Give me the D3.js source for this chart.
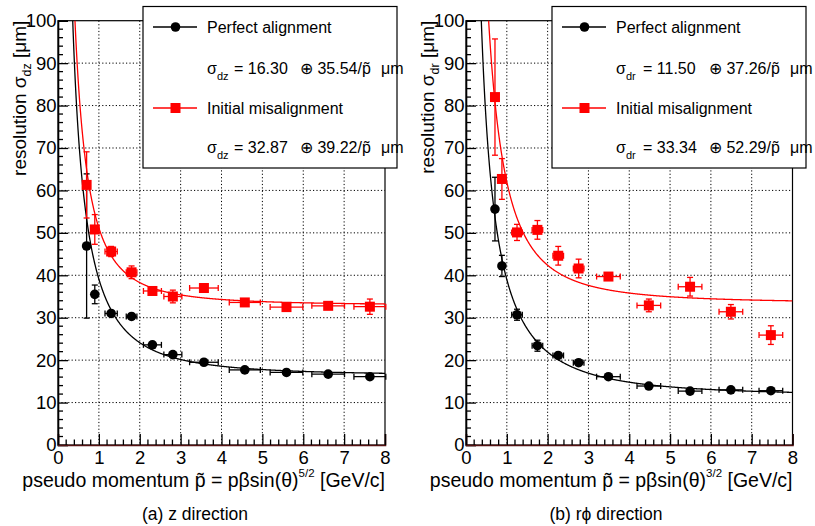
<!DOCTYPE html>
<html>
<head>
<meta charset="utf-8">
<script src="https://cdn.jsdelivr.net/npm/d3@7"></script>
<style>
  body { margin: 0; background: #fff; }
  svg text { font-family: "Liberation Sans", Arial, sans-serif; fill: #000; }
</style>
</head>
<body>
<div id="chart"></div>
<script>
// ---- data ----
// (a) z direction
const zMomentum    = [0.70, 0.90, 1.30, 1.80, 2.31, 2.81, 3.57, 4.57, 5.59, 6.61, 7.63];
const zMomentumErr = [0.04, 0.06, 0.15, 0.13, 0.22, 0.22, 0.35, 0.38, 0.40, 0.40, 0.39];
const zPerfect     = [46.9, 35.5, 31.0, 30.3, 23.6, 21.3, 19.5, 17.7, 17.1, 16.7, 16.1];
const zPerfectErr  = [17.0, 2.2, 0.5, 0.5, 0.6, 0.6, 0.5, 0.5, 0.4, 0.4, 0.4];
const zMisaligned  = [61.3, 50.8, 45.6, 40.7, 36.3, 35.0, 37.0, 33.6, 32.5, 32.8, 32.6];
const zMisalignErr = [7.8, 3.5, 1.2, 1.5, 0.8, 1.5, 0.7, 0.8, 0.8, 0.8, 1.8];
const zFitPerfect    = [16.30, 35.54];
const zFitMisaligned = [32.87, 39.22];

// (b) r-phi direction
const rMomentum    = [0.71, 0.88, 1.25, 1.75, 2.26, 2.76, 3.49, 4.48, 5.49, 6.49, 7.47];
const rMomentumErr = [0.05, 0.05, 0.13, 0.13, 0.13, 0.13, 0.29, 0.29, 0.29, 0.29, 0.29];
const rPerfect     = [55.6, 42.2, 30.7, 23.4, 21.1, 19.4, 16.1, 13.9, 12.7, 13.0, 12.8];
const rPerfectErr  = [7.5, 2.5, 1.3, 1.3, 0.6, 0.6, 0.5, 0.5, 0.5, 0.4, 0.4];
const rMisaligned  = [82.0, 62.7, 50.1, 50.7, 44.6, 41.6, 39.7, 32.9, 37.3, 31.4, 25.9];
const rMisalignErr = [13.7, 4.8, 1.9, 2.2, 2.2, 2.2, 0.8, 1.5, 2.2, 1.7, 2.2];
const rFitPerfect    = [11.50, 37.26];
const rFitMisaligned = [33.34, 52.29];

const xTicks = [0, 1, 2, 3, 4, 5, 6, 7, 8];
const yTicks = [0, 10, 20, 30, 40, 50, 60, 70, 80, 90, 100];
const seriesNames = ["Perfect alignment", "Initial misalignment"];

const W = 815, H = 526;
const svg = d3.select("#chart").append("svg")
  .attr("width", W).attr("height", H);

const panels = [
  {
    id: "a", left: 58, right: 385, sub: "dz", power: "5/2",
    caption: "(a) z direction", captionX: 195,
    p: zMomentum, pErr: zMomentumErr,
    black: zPerfect, blackErr: zPerfectErr, red: zMisaligned, redErr: zMisalignErr,
    fitBlack: zFitPerfect, fitRed: zFitMisaligned, legendX: 143
  },
  {
    id: "b", left: 466, right: 792.5, sub: "dr", power: "3/2",
    caption: "(b) r\u03d5 direction", captionX: 606,
    p: rMomentum, pErr: rMomentumErr,
    black: rPerfect, blackErr: rPerfectErr, red: rMisaligned, redErr: rMisalignErr,
    fitBlack: rFitPerfect, fitRed: rFitMisaligned, legendX: 552
  }
];

const plotTop = 20.7, plotBottom = 445;

panels.forEach(drawPanel);

function drawPanel(cfg) {
  const x = d3.scaleLinear().domain([0, 8]).range([cfg.left, cfg.right]);
  const y = d3.scaleLinear().domain([0, 100]).range([plotBottom, plotTop]);
  const g = svg.append("g");

  // clip region for curves
  g.append("clipPath").attr("id", "clip-" + cfg.id)
    .append("rect")
      .attr("x", cfg.left).attr("y", plotTop)
      .attr("width", cfg.right - cfg.left).attr("height", plotBottom - plotTop);

  // dotted grid
  g.append("g").selectAll("line")
    .data(xTicks.slice(1, -1))
    .join("line")
      .attr("x1", d => x(d)).attr("x2", d => x(d))
      .attr("y1", plotTop).attr("y2", plotBottom)
      .attr("stroke", "#000").attr("stroke-width", 1)
      .attr("stroke-dasharray", "1.2,2.2");
  g.append("g").selectAll("line")
    .data(yTicks.slice(1, -1))
    .join("line")
      .attr("x1", cfg.left).attr("x2", cfg.right)
      .attr("y1", d => y(d)).attr("y2", d => y(d))
      .attr("stroke", "#000").attr("stroke-width", 1)
      .attr("stroke-dasharray", "1.2,2.2");

  // frame
  g.append("rect")
    .attr("x", cfg.left).attr("y", plotTop)
    .attr("width", cfg.right - cfg.left).attr("height", plotBottom - plotTop)
    .attr("fill", "none").attr("stroke", "#000").attr("stroke-width", 1.2);

  // axes (ticks drawn inward)
  const yAxis = g.append("g")
    .attr("transform", `translate(${cfg.left},0)`)
    .call(d3.axisLeft(y).tickValues(yTicks).tickSize(-10).tickPadding(1.5).tickFormat(d3.format("d")));
  const xAxis = g.append("g")
    .attr("transform", `translate(0,${plotBottom})`)
    .call(d3.axisBottom(x).tickValues(xTicks).tickSize(-11).tickPadding(6).tickFormat(d3.format("d")));
  [yAxis, xAxis].forEach(a => {
    a.select(".domain").attr("stroke", "#000").attr("stroke-width", 1.6);
    a.selectAll(".tick line").attr("stroke", "#000").attr("stroke-width", 1.3);
    a.selectAll(".tick text")
      .attr("font-family", "Liberation Sans, Arial, sans-serif")
      .attr("font-size", 18.5).attr("fill", "#000");
  });
  xAxis.select(".domain").attr("stroke", "#551111");

  // minor ticks
  g.append("g").selectAll("line")
    .data(d3.range(0, 100.01, 2).filter(v => v % 10 !== 0))
    .join("line")
      .attr("x1", cfg.left).attr("x2", cfg.left + 5)
      .attr("y1", d => y(d)).attr("y2", d => y(d))
      .attr("stroke", "#000").attr("stroke-width", 1.3);
  g.append("g").selectAll("line")
    .data(d3.range(1, 40).filter(i => i % 5 !== 0).map(i => i * 0.2))
    .join("line")
      .attr("x1", d => x(d)).attr("x2", d => x(d))
      .attr("y1", plotBottom).attr("y2", plotBottom - 5.5)
      .attr("stroke", "#000").attr("stroke-width", 1.3);

  // fit curves sigma = a (+) b/p
  const pGrid = d3.range(0.3, 8.0001, 0.01);
  const line = d3.line().x(d => x(d[0])).y(d => y(d[1]));
  [[cfg.fitBlack, "#000"], [cfg.fitRed, "#ff0000"]].forEach(([f, col]) => {
    const pts = pGrid.map(p => [p, Math.sqrt(f[0] * f[0] + (f[1] / p) * (f[1] / p))])
      .filter(d => d[1] < 104);
    g.append("path")
      .attr("clip-path", `url(#clip-${cfg.id})`)
      .attr("d", line(pts))
      .attr("fill", "none").attr("stroke", col).attr("stroke-width", 1.3);
  });

  // data points with error bars
  drawSeries(g, x, y, cfg.p, cfg.pErr, cfg.black, cfg.blackErr, "#000", "circle");
  drawSeries(g, x, y, cfg.p, cfg.pErr, cfg.red, cfg.redErr, "#ff0000", "square");

  // axis titles
  const yt = g.append("text")
    .attr("transform", `translate(${cfg.left - 32.5},${plotTop}) rotate(-90)`)
    .attr("text-anchor", "end")
    .attr("font-size", 19);
  yt.append("tspan").text("resolution \u03c3");
  yt.append("tspan").attr("font-size", 12.5).attr("dy", 5).text(cfg.sub);
  yt.append("tspan").attr("dy", -5).text(" [\u03bcm]");

  const xt = g.append("text")
    .attr("x", cfg.right).attr("y", 487)
    .attr("text-anchor", "end")
    .attr("font-size", 19.5);
  xt.append("tspan").text("pseudo momentum  p\u0303 = p\u03b2sin(\u03b8)");
  xt.append("tspan").attr("font-size", 11.5).attr("dy", -10).text(cfg.power);
  xt.append("tspan").attr("dy", 10).text(" [GeV/c]");

  // caption
  g.append("text")
    .attr("x", cfg.captionX).attr("y", 520)
    .attr("text-anchor", "middle")
    .attr("font-size", 17.5)
    .text(cfg.caption);

  drawLegend(cfg);
}

function drawSeries(g, x, y, ps, pErr, vals, vErr, col, shape) {
  const s = g.append("g");
  const cap = 3;
  ps.forEach((p, i) => {
    const cx = x(p), cy = y(vals[i]);
    const x0 = x(p - pErr[i]), x1 = x(p + pErr[i]);
    const y0 = y(vals[i] - vErr[i]), y1 = y(Math.min(vals[i] + vErr[i], 100));
    // horizontal error
    s.append("line").attr("x1", x0).attr("x2", x1).attr("y1", cy).attr("y2", cy)
      .attr("stroke", col).attr("stroke-width", 1.3);
    [x0, x1].forEach(xx => s.append("line")
      .attr("x1", xx).attr("x2", xx).attr("y1", cy - cap).attr("y2", cy + cap)
      .attr("stroke", col).attr("stroke-width", 1.3));
    // vertical error
    s.append("line").attr("x1", cx).attr("x2", cx).attr("y1", y0).attr("y2", y1)
      .attr("stroke", col).attr("stroke-width", 1.3);
    [y0, y1].forEach(yy => s.append("line")
      .attr("x1", cx - cap).attr("x2", cx + cap).attr("y1", yy).attr("y2", yy)
      .attr("stroke", col).attr("stroke-width", 1.3));
  });
  ps.forEach((p, i) => marker(s, x(p), y(vals[i]), col, shape));
}

function marker(g, cx, cy, col, shape) {
  if (shape === "circle") {
    g.append("circle").attr("cx", cx).attr("cy", cy).attr("r", 4.8).attr("fill", col);
  } else {
    g.append("rect").attr("x", cx - 5).attr("y", cy - 5)
      .attr("width", 10).attr("height", 10).attr("fill", col);
  }
}

function drawLegend(cfg) {
  const lx = cfg.legendX;
  const lg = svg.append("g");
  lg.append("rect")
    .attr("x", lx).attr("y", 6.5).attr("width", 254).attr("height", 161.5)
    .attr("fill", "#fff").attr("stroke", "#000").attr("stroke-width", 1.2);

  const entries = [
    { name: seriesNames[0], col: "#000", shape: "circle", fit: cfg.fitBlack, yName: 27, yFit: 68 },
    { name: seriesNames[1], col: "#ff0000", shape: "square", fit: cfg.fitRed, yName: 108, yFit: 147 }
  ];
  entries.forEach(e => {
    lg.append("line")
      .attr("x1", lx + 10).attr("x2", lx + 54)
      .attr("y1", e.yName).attr("y2", e.yName)
      .attr("stroke", e.col).attr("stroke-width", 1.3);
    marker(lg, lx + 32.5, e.yName, e.col, e.shape);
    lg.append("text")
      .attr("x", lx + 64).attr("y", e.yName + 6)
      .attr("font-size", 16).text(e.name);

    const t = lg.append("text").attr("y", e.yFit + 6).attr("font-size", 16);
    t.append("tspan").attr("x", lx + 64).text("\u03c3");
    t.append("tspan").attr("font-size", 11).attr("dy", 6).text(cfg.sub);
    t.append("tspan").attr("x", lx + 91).attr("dy", -6).text("= " + e.fit[0].toFixed(2));
    t.append("tspan").attr("x", lx + 157).text("\u2295 " + e.fit[1].toFixed(2) + "/p\u0303");
    t.append("tspan").attr("x", lx + 238).text("\u03bcm");
  });
}
</script>
</body>
</html>
